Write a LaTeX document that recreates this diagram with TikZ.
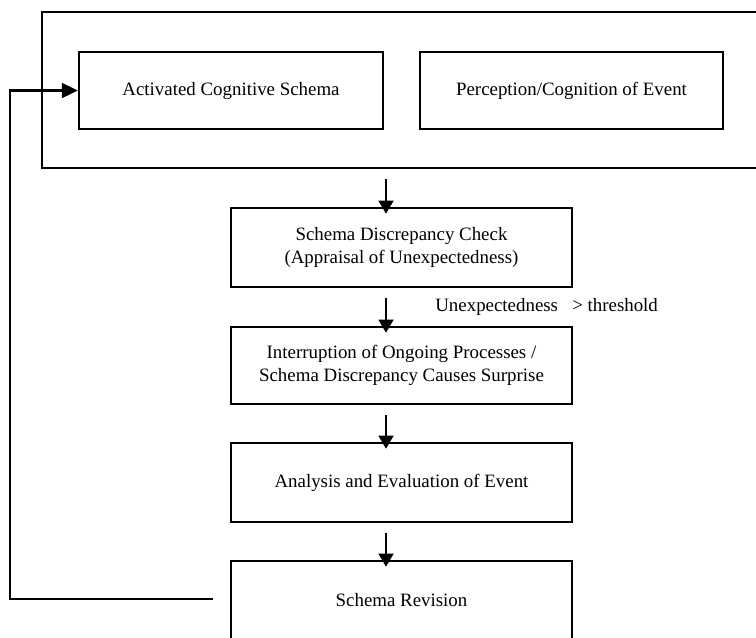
\documentclass[tikz,border=0pt]{standalone}
\usepackage{fontspec}
\setmainfont{Liberation Serif}
\usetikzlibrary{calc,arrows.meta}

\tikzset{
    stage/.style={draw, line width=1.5pt, rectangle, align=center,
        font=\fontsize{10.75}{13}\selectfont, inner sep=2pt},
    flow/.style={line width=1.2pt, -{Triangle[length=7.5pt,width=8.5pt]},
        shorten <=5.5pt, shorten >=-4pt},
    loopback/.style={line width=1.2pt, -{Triangle[length=9pt,width=8.5pt]}}
}

\begin{document}
\begin{tikzpicture}[x=0.02cm, y=-0.02cm]

    % Page frame (the outer box runs off the right edge)
    \clip (0,0) rectangle (756,637);

    % Outer box around the two input stages
    \node[stage, minimum width=14.76cm, minimum height=3.12cm] (ctx) at (411,90) {};

    % Input stages
    \node[stage, minimum width=6.08cm, minimum height=1.54cm] (acs) at (231,90.5) {Activated Cognitive Schema};
    \node[stage, minimum width=6.06cm, minimum height=1.54cm] (pce) at (571.5,90.5) {Perception/Cognition of Event};

    % Chain of processing stages
    \node[stage, minimum width=6.82cm, minimum height=1.58cm] (sdc) at (401.5,247.5)
        {Schema Discrepancy Check\\(Appraisal of Unexpectedness)};
    \node[stage, minimum width=6.82cm, minimum height=1.54cm] (iop) at (401.5,365.5)
        {Interruption of Ongoing Processes /\\Schema Discrepancy Causes Surprise};
    \node[stage, minimum width=6.82cm, minimum height=1.58cm] (aee) at (401.5,482.5)
        {Analysis and Evaluation of Event};
    \node[stage, minimum width=6.82cm, minimum height=1.58cm] (srv) at (401.5,600.5)
        {Schema Revision};

    % The arrows all sit on one vertical line
    \coordinate (spine) at (386,0);

    \draw[flow] (ctx.south -| spine) -- (sdc.north -| spine);
    \draw[flow] (sdc.south -| spine) -- (iop.north -| spine);
    \draw[flow] (iop.south -| spine) -- (aee.north -| spine);
    \draw[flow] (aee.south -| spine) -- (srv.north -| spine);

    % Threshold condition
    \node[anchor=west, font=\fontsize{10.75}{13}\selectfont, inner sep=0pt] (thr) at (435,307)
        {Unexpectedness\hspace{0.75em}> threshold};

    % Feedback from revision back to the schema
    \coordinate (fb) at ($ (srv.west) + (-17,-1.5) $);
    \draw[loopback] (fb) -- ++(-203,0) |- (acs.west);

\end{tikzpicture}
\end{document}
